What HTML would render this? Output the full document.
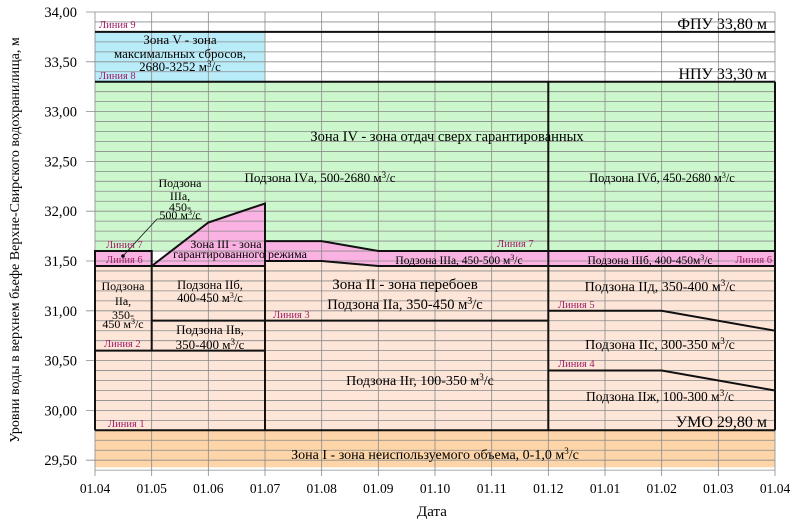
<!DOCTYPE html>
<html><head><meta charset="utf-8"><style>
html,body{margin:0;padding:0;background:#fff}
svg{display:block;font-family:"Liberation Serif",serif}
.l{fill:#a0206a;font-size:10.5px}
.t{font-size:13px;fill:#000}
</style></head><body>
<svg width="805" height="524" viewBox="0 0 805 524" xmlns="http://www.w3.org/2000/svg">
<rect x="95" y="430.3" width="680" height="37" fill="#fdd5a8"/>
<rect x="95" y="266" width="680" height="164.3" fill="#fde5d8"/>
<polygon points="265,261 321.7,261 378.3,266 775,266 775,430 265,430" fill="#fde5d8"/>
<rect x="95" y="81.7" width="680" height="170" fill="#ccf7cc"/>
<rect x="95" y="31.9" width="170" height="49.8" fill="#b9ecf9"/>
<polygon points="95,251 151.7,251 151.7,266 95,266" fill="#f9b2e2"/>
<polygon points="151.7,266 208.3,222.5 265,203.5 265,241.1 321.7,241.1 378.3,251 775,251 775,266 378.3,266 321.7,261 265,261 265,266" fill="#f9b2e2"/>
<g stroke="#8a8a8a" stroke-width="0.8" id="g"></g>
<g font-size="14.5" text-anchor="end" id="yt"></g>
<g font-size="13.5" text-anchor="middle" id="xt"></g>
<g stroke="#111" stroke-width="2" fill="none">
<line x1="95" y1="31.9" x2="775" y2="31.9"/>
<line x1="95" y1="81.7" x2="775" y2="81.7"/>
<line x1="95" y1="430.3" x2="775" y2="430.3"/>
<polyline points="95,430.3 95,251 151.7,251 151.7,266"/>
<line x1="95" y1="266" x2="265" y2="266"/>
<polyline points="151.7,266 208.3,222.5 265,203.5 265,430.3"/>
<polyline points="265,241.1 321.7,241.1 378.3,251 775,251"/>
<polyline points="265,261 321.7,261 378.3,266 775,266"/>
<line x1="151.7" y1="266" x2="151.7" y2="350.6"/>
<line x1="95" y1="350.6" x2="265" y2="350.6"/>
<line x1="151.7" y1="320.6" x2="548.3" y2="320.6"/>
<line x1="548.3" y1="81.7" x2="548.3" y2="430.3"/>
<line x1="775" y1="81.7" x2="775" y2="430.3"/>
<polyline points="548.3,310.8 661.7,310.8 775,330.7"/>
<polyline points="548.3,370.5 661.7,370.5 775,390.5"/>
</g>
<line x1="123" y1="256" x2="157" y2="219" stroke="#111" stroke-width="0.8"/>
<line x1="157" y1="219" x2="202" y2="219" stroke="#111" stroke-width="0.8"/>
<circle cx="123" cy="256" r="1.8" fill="#000"/>
<text class="l" x="99" y="28">Линия 9</text>
<text class="l" x="99" y="79">Линия 8</text>
<text class="l" x="106" y="248">Линия 7</text>
<text class="l" x="106" y="263">Линия 6</text>
<text class="l" x="497" y="247">Линия 7</text>
<text class="l" x="772" y="263" text-anchor="end">Линия 6</text>
<text class="l" x="558" y="308">Линия 5</text>
<text class="l" x="558" y="367">Линия 4</text>
<text class="l" x="273" y="318">Линия 3</text>
<text class="l" x="104" y="347">Линия 2</text>
<text class="l" x="108" y="427">Линия 1</text>
<g class="t" text-anchor="middle">
<text x="180" y="44">Зона V - зона</text>
<text x="180" y="58">максимальных сбросов,</text>
<text x="180" y="71">2680-3252 м<tspan font-size="9" dy="-4">3</tspan><tspan dy="4">/с</tspan></text>
<text x="447" y="141" font-size="14.5">Зона IV - зона отдач сверх гарантированных</text>
<text x="320" y="182">Подзона IVа, 500-2680 м<tspan font-size="9" dy="-4">3</tspan><tspan dy="4">/с</tspan></text>
<text x="662" y="182" font-size="12.5">Подзона IVб, 450-2680 м<tspan font-size="8" dy="-4">3</tspan><tspan dy="4">/с</tspan></text>
<text x="180" y="187" font-size="12">Подзона</text>
<text x="180" y="200" font-size="12">IIIа,</text>
<text x="180" y="211" font-size="12">450-</text>
<text x="180" y="219" font-size="12">500 м<tspan font-size="8" dy="-4">3</tspan><tspan dy="4">/с</tspan></text>
<text x="226" y="248" font-size="12">Зона III - зона</text>
<text x="240" y="258" font-size="12">гарантированного режима</text>
<text x="459" y="264" font-size="11.5">Подзона IIIа, 450-500 м<tspan font-size="8" dy="-4">3</tspan><tspan dy="4">/с</tspan></text>
<text x="650" y="264" font-size="11.5">Подзона IIIб, 400-450м<tspan font-size="8" dy="-4">3</tspan><tspan dy="4">/с</tspan></text>
<text x="405" y="289" font-size="15">Зона II - зона перебоев</text>
<text x="405" y="309" font-size="14.5">Подзона IIа, 350-450 м<tspan font-size="10" dy="-5">3</tspan><tspan dy="5">/с</tspan></text>
<text x="123" y="290" font-size="12">Подзона</text>
<text x="123" y="305" font-size="12">IIа,</text>
<text x="123" y="319" font-size="12">350-</text>
<text x="123" y="328" font-size="12">450 м<tspan font-size="8" dy="-4">3</tspan><tspan dy="4">/с</tspan></text>
<text x="210" y="289" font-size="12.5">Подзона IIб,</text>
<text x="210" y="302" font-size="12.5">400-450 м<tspan font-size="8" dy="-4">3</tspan><tspan dy="4">/с</tspan></text>
<text x="210" y="334" font-size="13">Подзона IIв,</text>
<text x="210" y="349" font-size="13">350-400 м<tspan font-size="9" dy="-4">3</tspan><tspan dy="4">/с</tspan></text>
<text x="420" y="385" font-size="14">Подзона IIг, 100-350 м<tspan font-size="9" dy="-5">3</tspan><tspan dy="5">/с</tspan></text>
<text x="660" y="291" font-size="14">Подзона IIд, 350-400 м<tspan font-size="9" dy="-5">3</tspan><tspan dy="5">/с</tspan></text>
<text x="660" y="349" font-size="14">Подзона IIс, 300-350 м<tspan font-size="9" dy="-5">3</tspan><tspan dy="5">/с</tspan></text>
<text x="660" y="401" font-size="13.5">Подзона IIж, 100-300 м<tspan font-size="9" dy="-5">3</tspan><tspan dy="5">/с</tspan></text>
<text x="435" y="459" font-size="14">Зона I - зона неиспользуемого объема, 0-1,0 м<tspan font-size="9" dy="-5">3</tspan><tspan dy="5">/с</tspan></text>
</g>
<g text-anchor="end" font-size="16">
<text x="767" y="29">ФПУ 33,80 м</text>
<text x="767" y="79">НПУ 33,30 м</text>
<text x="767" y="427">УМО 29,80 м</text>
</g>
<text x="432" y="516" text-anchor="middle" font-size="15">Дата</text>
<text transform="translate(19,240) rotate(-90)" text-anchor="middle" font-size="14">Уровни воды в верхнем бьефе Верхне-Свирского водохранилища, м</text>
<script>
(function(){
var ns="http://www.w3.org/2000/svg";
var g=document.getElementById('g'),yt=document.getElementById('yt'),xt=document.getElementById('xt');
function Y(v){return 12+(34-v)*99.6;}
for(var i=0;i<=46;i++){var v=29.4+i*0.1;var y=Y(v);var l=document.createElementNS(ns,'line');
l.setAttribute('x1',(i%5==1)?86:95);l.setAttribute('x2',775);l.setAttribute('y1',y);l.setAttribute('y2',y);g.appendChild(l);}
for(var k=0;k<=9;k++){var v=29.5+k*0.5;var t=document.createElementNS(ns,'text');t.setAttribute('x',77);t.setAttribute('y',Y(v)+5);t.textContent=v.toFixed(2).replace('.',',');yt.appendChild(t);}
var m=['01.04','01.05','01.06','01.07','01.08','01.09','01.10','01.11','01.12','01.01','01.02','01.03','01.04'];
for(var j=0;j<=12;j++){var x=95+j*680/12;var l=document.createElementNS(ns,'line');l.setAttribute('x1',x);l.setAttribute('x2',x);l.setAttribute('y1',12);l.setAttribute('y2',476);g.appendChild(l);
var t=document.createElementNS(ns,'text');t.setAttribute('x',x);t.setAttribute('y',493);t.textContent=m[j];xt.appendChild(t);}
})();
</script>
</svg>
</body></html>
